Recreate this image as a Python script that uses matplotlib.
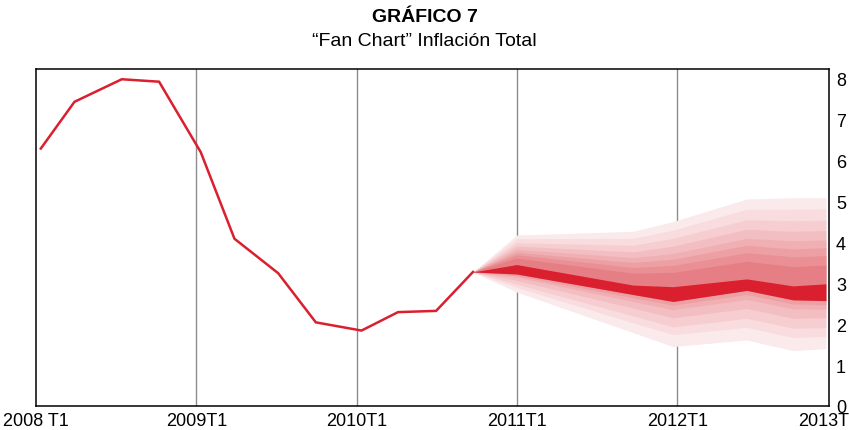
import matplotlib
matplotlib.use("Agg")
import matplotlib.pyplot as plt

# ---------------- data ----------------
# x in quarters since 2008T1
hist_x = [0.12, 0.96, 2.14, 3.07, 4.11, 4.95, 6.04, 6.98, 8.12, 9.03, 9.98, 10.90]
hist_y = [6.28, 7.42, 7.97, 7.91, 6.19, 4.08, 3.24, 2.04, 1.84, 2.29, 2.32, 3.27]

fan_x = [10.90, 11.99, 14.89, 15.89, 17.73, 18.88, 19.70]
central_top = [3.27, 3.45, 2.95, 2.91, 3.10, 2.93, 2.98]
central_bot = [3.27, 3.22, 2.72, 2.55, 2.82, 2.59, 2.57]

# fan band edges, outermost (1) to innermost (8)
upper_1 = [3.27, 4.17, 4.26, 4.50, 5.05, 5.08, 5.08]
upper_2 = [3.27, 4.08, 4.09, 4.29, 4.80, 4.80, 4.81]
upper_3 = [3.27, 3.98, 3.92, 4.09, 4.54, 4.52, 4.53]
upper_4 = [3.27, 3.90, 3.76, 3.90, 4.31, 4.26, 4.28]
upper_5 = [3.27, 3.82, 3.62, 3.72, 4.09, 4.03, 4.05]
upper_6 = [3.27, 3.75, 3.50, 3.58, 3.92, 3.83, 3.86]
upper_7 = [3.27, 3.69, 3.38, 3.43, 3.74, 3.64, 3.67]
upper_8 = [3.27, 3.61, 3.24, 3.26, 3.53, 3.40, 3.44]

lower_1 = [3.27, 2.78, 1.79, 1.45, 1.61, 1.35, 1.40]
lower_2 = [3.27, 2.89, 2.03, 1.74, 1.92, 1.67, 1.70]
lower_3 = [3.27, 2.97, 2.20, 1.93, 2.14, 1.90, 1.91]
lower_4 = [3.27, 3.06, 2.39, 2.15, 2.38, 2.14, 2.15]
lower_5 = [3.27, 3.14, 2.55, 2.35, 2.60, 2.37, 2.36]
lower_6 = [3.27, 3.18, 2.64, 2.46, 2.72, 2.49, 2.47]
lower_7 = [3.27, 3.22, 2.72, 2.55, 2.82, 2.59, 2.57]
lower_8 = [3.27, 3.22, 2.72, 2.55, 2.82, 2.59, 2.57]

band_colors = ["#fbeaeb", "#f8dcde", "#f6cdd0", "#f3bec1",
               "#f0afb3", "#eda0a4", "#ea9095", "#e67f85"]

xtick_pos = [0, 4, 8, 12, 16, 19.78]
xtick_labels = ["2008 T1", "2009T1", "2010T1", "2011T1", "2012T1", "2013T1"]
ytick_pos = [0, 1, 2, 3, 4, 5, 6, 7, 8]

title = "GRÁFICO 7"
subtitle = "\u201cFan Chart\u201d Inflación Total"

# ---------------- plot ----------------
fam = ["Liberation Sans Narrow", "Liberation Sans", "DejaVu Sans"]
plt.rcParams["font.family"] = fam

fig = plt.figure(figsize=(8.49, 4.31), dpi=100)
ax = fig.add_axes([36 / 849, 24 / 431, (829 - 36) / 849, (407 - 70) / 431])

uppers = [upper_1, upper_2, upper_3, upper_4, upper_5, upper_6, upper_7, upper_8]
lowers = [lower_1, lower_2, lower_3, lower_4, lower_5, lower_6, lower_7, lower_8]
for lo, up, c in zip(lowers, uppers, band_colors):
    ax.fill_between(fan_x, lo, up, color=c, linewidth=0, zorder=2)
ax.fill_between(fan_x, central_bot, central_top, color="#da1f2e", linewidth=0, zorder=3)

ax.plot(hist_x, hist_y, color="#da1f2e", lw=1.8, zorder=4, solid_joinstyle="miter")

for xv in [4, 8, 12, 16]:
    ax.axvline(xv, color="#8c8c8c", lw=1.0, zorder=1)

ax.set_xlim(0, 19.78)
ax.set_ylim(0, 8.22)
ax.set_xticks(xtick_pos)
ax.set_xticklabels(xtick_labels)
ax.set_yticks(ytick_pos)
ax.yaxis.tick_right()
ax.tick_params(axis="both", length=0, labelsize=13, colors="black")
ax.tick_params(axis="x", pad=4)
ax.tick_params(axis="y", pad=5)
for s in ax.spines.values():
    s.set_linewidth(1.1)
    s.set_color("black")

fig.text(0.5, 1 - 18 / 431, title, ha="center", va="center", fontsize=14, fontweight="bold")
fig.text(0.5, 1 - 41 / 431, subtitle, ha="center", va="center", fontsize=14)

fig.savefig("out.png", dpi=100)
